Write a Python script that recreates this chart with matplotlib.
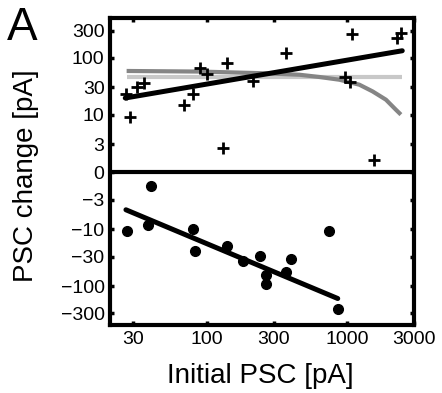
import numpy as np
import matplotlib
matplotlib.use('Agg')
import matplotlib.pyplot as plt

plt.rcParams['font.family'] = ['Liberation Sans', 'DejaVu Sans']

# increases (+ markers, upper half)
up_x = [26.8, 28.3, 31.9, 35.5, 69.0, 79.5, 89.6, 99.9, 140, 130, 212, 369, 1084, 968, 1055, 1542, 2260, 2414]
up_y = [23.1, 9.2, 30.1, 36.0, 15.0, 23.4, 65.9, 51.8, 79.4, 2.6, 39.5, 121, 264, 46.4, 36.9, 1.56, 222, 271]

# decreases (dots, lower half)
down_x = [27.1, 40.0, 38.5, 80.3, 82.6, 140, 180, 241, 266, 266, 400, 369, 748, 857]
down_y = [-10.8, -1.69, -8.2, -10.0, -24.0, -19.9, -36.4, -29.8, -64.1, -89.7, -32.7, -56.1, -10.5, -253]

# fit lines
fit_up_x = [26.3, 2468]
fit_up_y = [19.6, 133]
fit_dn_x = [26.6, 857]
fit_dn_y = [-4.5, -164]
const_x = [26.9, 2468]
const_y = [46.5, 46.5]
lin_x = [26.9, 89.6, 250, 458, 635, 881, 1222, 1518, 1889, 2223, 2414]
lin_y = [58.6, 57.2, 53.5, 50.3, 45.9, 41.1, 33.6, 25.6, 18.3, 12.2, 10.0]

xticks = [30, 100, 300, 1000, 3000]
yticks = [-300, -100, -30, -10, -3, 0, 3, 10, 30, 100, 300]
ylabels = [str(t).replace('-', '\u2212') for t in yticks]

fig = plt.figure(figsize=(4.42, 3.93), dpi=100)
ax = fig.add_axes([0.249, 0.173, 0.688, 0.781])

ax.plot(const_x, const_y, color='#c8c8c8', lw=3, solid_capstyle='butt', zorder=2)
ax.plot(lin_x, lin_y, color='#858585', lw=3, solid_capstyle='butt', zorder=2)
ax.plot(fit_up_x, fit_up_y, color='k', lw=3.6, solid_capstyle='round', zorder=3)
ax.plot(fit_dn_x, fit_dn_y, color='k', lw=3.6, solid_capstyle='round', zorder=3)
ax.plot(up_x, up_y, '+', color='k', ms=8, mew=2, zorder=4)
ax.plot(down_x, down_y, 'o', color='k', ms=7, zorder=4)
ax.axhline(0, color='k', lw=3, zorder=5)

ax.set_xscale('log')
ax.set_yscale('symlog', linthresh=1, linscale=0.01)
ax.set_xlim(20.5, 3000)
ax.set_ylim(-480, 500)

ax.set_xticks(xticks)
ax.set_xticklabels([str(t) for t in xticks])
ax.set_yticks(yticks)
ax.set_yticklabels(ylabels)
ax.minorticks_off()
ax.tick_params(direction='in', top=True, right=True, length=3, width=2.5, labelsize=14, pad=4)
for s in ax.spines.values():
    s.set_linewidth(3)

ax.set_xlabel('Initial PSC [pA]', fontsize=20)
ax.set_ylabel('PSC change [pA]', fontsize=20)
ax.xaxis.set_label_coords(0.495, -0.125)
ax.yaxis.set_label_coords(-0.234, 0.485)
fig.text(0.015, 0.985, 'A', fontsize=33, va='top', ha='left')

fig.savefig('out.png', dpi=100)
